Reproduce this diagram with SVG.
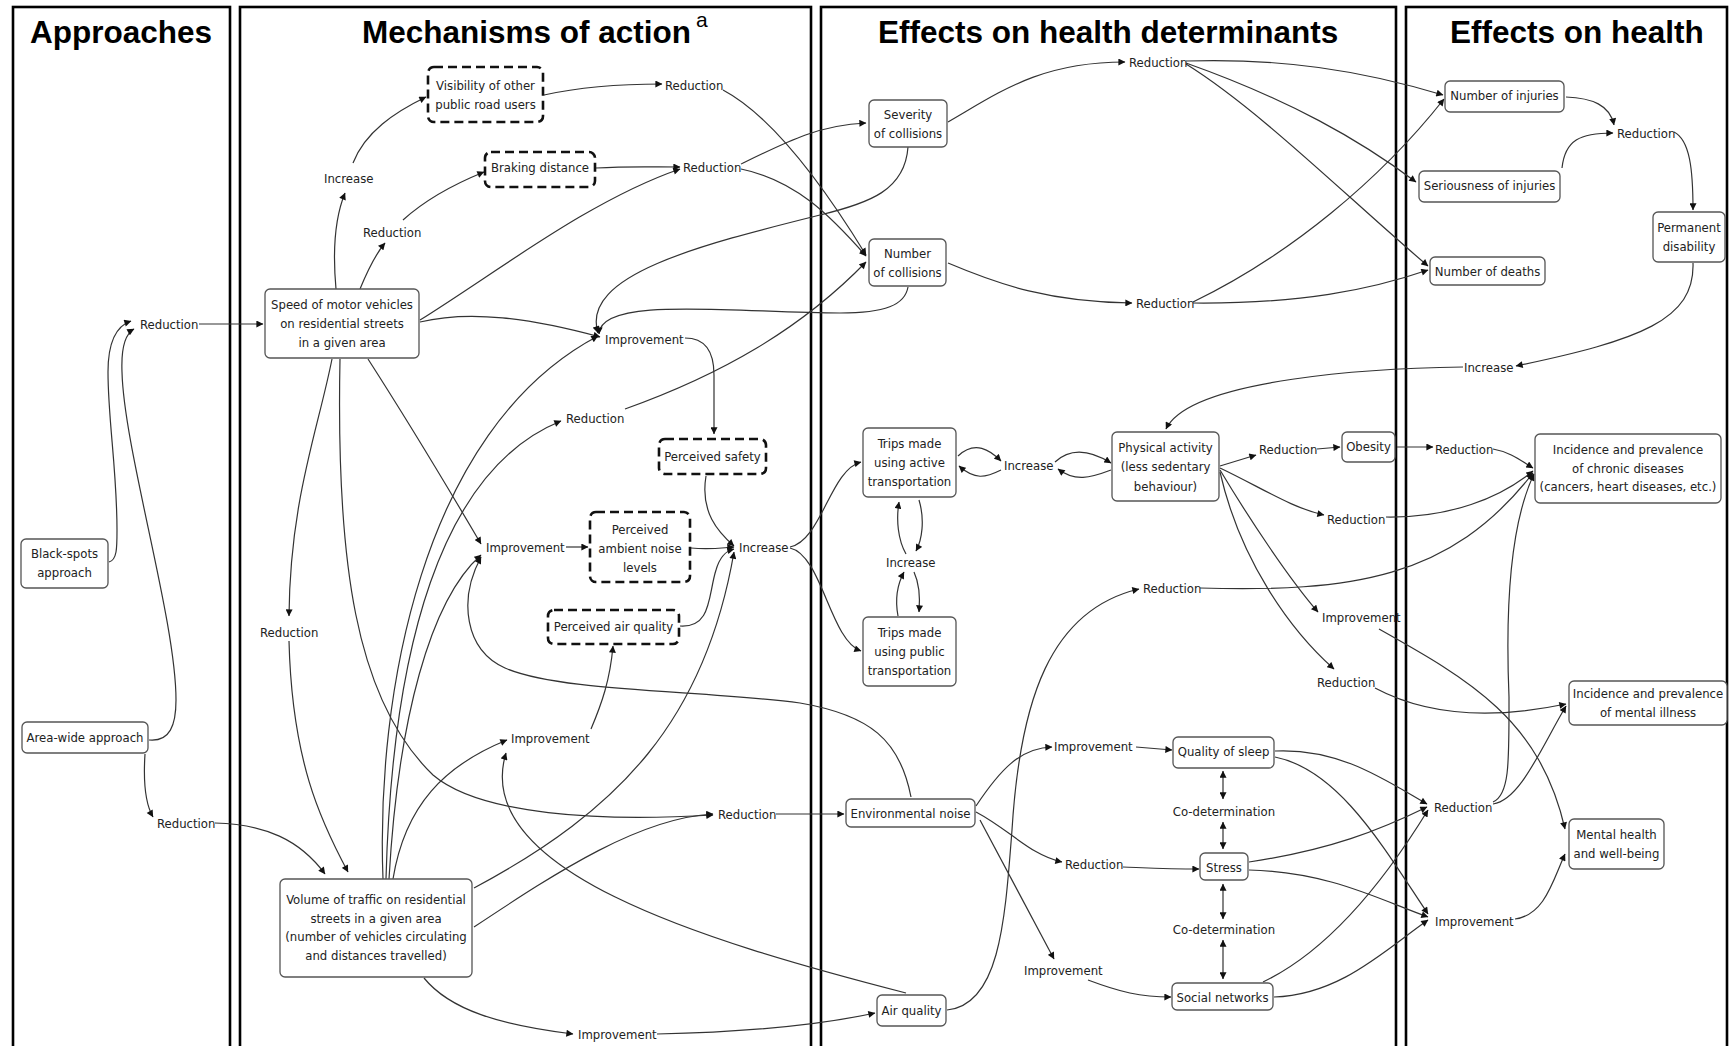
<svg xmlns="http://www.w3.org/2000/svg" width="1730" height="1046" viewBox="0 0 1730 1046">
<defs>
<style>
.frame{fill:none;stroke:#000;stroke-width:2.6}
.title{font-family:"Liberation Sans",Arial,sans-serif;font-weight:bold;font-size:31.5px;fill:#000}
.sup{font-family:"Liberation Sans",Arial,sans-serif;font-size:21px;fill:#000}
.box{fill:#fff;stroke:#555;stroke-width:1.3}
.dbox{fill:#fff;stroke:#111;stroke-width:2.6;stroke-dasharray:9 5}
.t{font-family:"DejaVu Sans Condensed","DejaVu Sans",sans-serif;font-stretch:condensed;font-size:13px;fill:#222}
.c{text-anchor:middle}
.e{fill:none;stroke:#333;stroke-width:1.2;marker-end:url(#ah)}
.d{fill:none;stroke:#333;stroke-width:1.2;marker-start:url(#ah);marker-end:url(#ah)}
</style>
<marker id="ah" viewBox="0 0 10 10" refX="9.5" refY="5" markerWidth="8" markerHeight="7" markerUnits="userSpaceOnUse" orient="auto-start-reverse">
<path d="M0,0 L10,5 L0,10 z" fill="#111"/>
</marker>
</defs>
<rect width="1730" height="1046" fill="#fff"/>
<g id="frames">
<rect class="frame" x="13" y="7" width="217" height="1060"/>
<rect class="frame" x="240" y="7" width="571" height="1060"/>
<rect class="frame" x="821" y="7" width="575" height="1060"/>
<rect class="frame" x="1406" y="7" width="321" height="1060"/>
</g>
<g id="titles">
<text class="title" x="30" y="43">Approaches</text>
<text class="title" x="362" y="43">Mechanisms of action</text>
<text class="sup" x="696" y="27">a</text>
<text class="title" x="878" y="43">Effects on health determinants</text>
<text class="title" x="1450" y="43">Effects on health</text>
</g>
<g id="connectors">
<path class="e" d="M 109 562 C 117 560, 117 548, 117 530 C 117 470, 108 420, 108 372 C 108 342, 116 326, 131 321"/>
<path class="e" d="M 149 740 C 170 742, 176 725, 176 700 C 176 620, 124 450, 122 372 C 121 347, 125 334, 134 329"/>
<path class="e" d="M 199 324 L 263 324"/>
<path class="e" d="M 145 754 C 143 785, 146 805, 153 817"/>
<path class="e" d="M 215 823 C 265 824, 300 840, 325 874"/>
<path class="e" d="M 336 289 C 332 245, 336 215, 345 193"/>
<path class="e" d="M 353 163 C 365 132, 395 112, 426 97"/>
<path class="e" d="M 360 289 C 367 272, 374 256, 385 243"/>
<path class="e" d="M 403 220 C 425 200, 452 185, 484 172"/>
<path class="e" d="M 544 95 C 580 87, 625 84, 662 84"/>
<path class="e" d="M 596 168 C 630 166, 650 167, 680 167"/>
<path class="e" d="M 420 320 C 500 270, 590 200, 680 169"/>
<path class="e" d="M 420 322 C 470 310, 530 318, 600 337"/>
<path class="e" d="M 723 90 C 770 115, 820 180, 866 255"/>
<path class="e" d="M 741 164 C 790 140, 820 125, 866 123"/>
<path class="e" d="M 741 169 C 795 180, 830 215, 866 256"/>
<path class="e" d="M 908 147 C 905 190, 870 203, 820 215 C 700 245, 580 275, 598 333"/>
<path class="e" d="M 908 287 C 905 305, 885 313, 840 313 C 740 313, 600 295, 599 334"/>
<path class="e" d="M 685 338 C 705 338, 714 352, 714 375 L 714 434"/>
<path class="e" d="M 625 409 C 720 375, 800 330, 866 262"/>
<path class="e" d="M 368 359 Q 420 440, 481 544"/>
<path class="e" d="M 566 547 L 588 547"/>
<path class="e" d="M 706 476 C 700 512, 718 532, 734 546"/>
<path class="e" d="M 691 548 C 710 550, 720 548, 734 547"/>
<path class="e" d="M 680 626 C 712 628, 708 595, 716 570 C 720 556, 726 551, 734 549"/>
<path class="e" d="M 474 888 C 620 810, 705 720, 734 552"/>
<path class="e" d="M 591 729 C 602 703, 610 680, 613 646"/>
<path class="e" d="M 393 879 C 405 805, 445 765, 507 740"/>
<path class="e" d="M 906 993 C 700 940, 470 870, 506 753"/>
<path class="e" d="M 332 359 C 318 430, 290 500, 289 616"/>
<path class="e" d="M 289 641 C 292 760, 320 820, 348 872"/>
<path class="e" d="M 340 359 C 336 560, 355 700, 433 775 C 480 815, 600 822, 713 815"/>
<path class="e" d="M 474 927 C 560 870, 640 818, 713 814"/>
<path class="e" d="M 776 814 L 844 814"/>
<path class="e" d="M 424 978 C 450 1010, 500 1025, 573 1034"/>
<path class="e" d="M 657 1034 C 750 1032, 820 1025, 875 1013"/>
<path class="e" d="M 911 797 C 900 740, 870 715, 800 703 C 700 690, 560 692, 505 668 C 465 650, 458 600, 481 557"/>
<path class="e" d="M 383 879 C 376 700, 420 430, 598 336"/>
<path class="e" d="M 386 879 C 392 650, 440 470, 561 421"/>
<path class="e" d="M 389 879 C 398 720, 430 600, 481 555"/>
<path class="e" d="M 948 122 C 1000 92, 1040 62, 1125 62"/>
<path class="e" d="M 948 263 C 1000 285, 1050 302, 1132 303"/>
<path class="e" d="M 1186 61 C 1280 58, 1360 70, 1443 95"/>
<path class="e" d="M 1186 63 C 1290 100, 1360 140, 1416 182"/>
<path class="e" d="M 1186 64 C 1260 110, 1350 200, 1428 266"/>
<path class="e" d="M 1193 302 C 1290 255, 1380 180, 1444 99"/>
<path class="e" d="M 1193 303 C 1300 304, 1370 290, 1428 270"/>
<path class="e" d="M 790 547 C 822 540, 830 470, 861 462"/>
<path class="e" d="M 790 548 C 822 555, 830 640, 861 651"/>
<path class="e" d="M 958 456 C 975 440, 990 450, 1001 461"/>
<path class="e" d="M 1001 470 C 985 478, 975 480, 959 466"/>
<path class="e" d="M 1055 462 C 1070 448, 1090 450, 1111 463"/>
<path class="e" d="M 1111 470 C 1090 478, 1075 482, 1058 469"/>
<path class="e" d="M 919 500 C 925 520, 922 540, 916 551"/>
<path class="e" d="M 906 554 C 898 540, 896 520, 899 502"/>
<path class="e" d="M 898 616 C 895 600, 897 585, 904 572"/>
<path class="e" d="M 914 572 C 920 585, 920 600, 919 612"/>
<path class="e" d="M 1463 367 C 1380 368, 1190 378, 1166 429"/>
<path class="e" d="M 1220 466 L 1256 455"/>
<path class="e" d="M 1317 449 L 1340 447"/>
<path class="e" d="M 1397 447 L 1433 447"/>
<path class="e" d="M 1493 449 C 1510 452, 1520 460, 1533 468"/>
<path class="e" d="M 1220 468 C 1262 488, 1292 508, 1324 515"/>
<path class="e" d="M 1386 517 C 1450 518, 1500 498, 1533 471"/>
<path class="e" d="M 1220 470 C 1250 520, 1290 580, 1318 612"/>
<path class="e" d="M 1220 472 C 1240 560, 1290 630, 1334 669"/>
<path class="e" d="M 947 1010 C 1000 1005, 1005 920, 1012 830 C 1020 700, 1050 610, 1139 589"/>
<path class="e" d="M 1200 588 C 1350 592, 1450 580, 1533 473"/>
<path class="e" d="M 1379 629 C 1470 680, 1540 720, 1565 829"/>
<path class="e" d="M 1375 688 C 1420 712, 1480 722, 1566 704"/>
<path class="e" d="M 976 806 C 1000 770, 1020 748, 1052 747"/>
<path class="e" d="M 1136 747 L 1172 750"/>
<path class="e" d="M 976 812 C 1010 830, 1030 855, 1062 862"/>
<path class="e" d="M 1123 867 C 1150 868, 1170 869, 1199 869"/>
<path class="e" d="M 980 820 L 1054 959"/>
<path class="e" d="M 1088 980 C 1120 992, 1140 997, 1171 997"/>
<path class="d" d="M 1223 771 L 1223 799"/>
<path class="d" d="M 1223 822 L 1223 849"/>
<path class="d" d="M 1223 884 L 1223 919"/>
<path class="d" d="M 1223 940 L 1223 979"/>
<path class="e" d="M 1275 751 C 1340 748, 1385 780, 1427 804"/>
<path class="e" d="M 1275 757 C 1340 770, 1385 850, 1428 914"/>
<path class="e" d="M 1249 862 C 1330 850, 1380 830, 1427 807"/>
<path class="e" d="M 1249 870 C 1330 872, 1380 900, 1428 917"/>
<path class="e" d="M 1263 982 C 1330 950, 1385 880, 1428 810"/>
<path class="e" d="M 1274 997 C 1340 995, 1385 950, 1428 920"/>
<path class="e" d="M 1493 804 C 1520 800, 1540 750, 1566 706"/>
<path class="e" d="M 1493 802 C 1510 795, 1509 760, 1509 697 C 1505 600, 1512 520, 1534 474"/>
<path class="e" d="M 1515 919 C 1545 915, 1553 880, 1565 854"/>
<path class="e" d="M 1566 97 C 1592 98, 1610 105, 1614 125"/>
<path class="e" d="M 1562 168 C 1565 140, 1580 133, 1613 133"/>
<path class="e" d="M 1674 132 C 1690 140, 1693 170, 1693 210"/>
<path class="e" d="M 1693 263 C 1695 320, 1640 340, 1516 366"/>
</g>
<g id="n-blackspots"><rect class="box" x="21" y="539" width="87" height="49" rx="5"/><text class="t c" x="64.5" y="557.5">Black-spots</text><text class="t c" x="64.5" y="576.5">approach</text></g>
<g id="n-areawide"><rect class="box" x="22" y="722" width="126" height="31" rx="5"/><text class="t c" x="85" y="741.5">Area-wide approach</text></g>
<g id="n-a1"><text class="t" x="140" y="328.5">Reduction</text></g>
<g id="n-a2"><text class="t" x="157" y="827.5">Reduction</text></g>
<g id="n-speed"><rect class="box" x="265" y="289" width="154" height="69" rx="5"/><text class="t c" x="342" y="308.5">Speed of motor vehicles</text><text class="t c" x="342" y="327.5">on residential streets</text><text class="t c" x="342" y="346.5">in a given area</text></g>
<g id="n-visibility"><rect class="dbox" x="428" y="67" width="115" height="55" rx="6"/><text class="t c" x="485.5" y="89.5">Visibility of other</text><text class="t c" x="485.5" y="108.5">public road users</text></g>
<g id="n-braking"><rect class="dbox" x="485" y="152" width="110" height="35" rx="6"/><text class="t c" x="540" y="171.5">Braking distance</text></g>
<g id="n-psafety"><rect class="dbox" x="659" y="439" width="107" height="35" rx="6"/><text class="t c" x="712.5" y="460.5">Perceived safety</text></g>
<g id="n-pnoise"><rect class="dbox" x="590" y="512" width="100" height="70" rx="6"/><text class="t c" x="640" y="533.5">Perceived</text><text class="t c" x="640" y="552.5">ambient noise</text><text class="t c" x="640" y="571.5">levels</text></g>
<g id="n-pair"><rect class="dbox" x="548" y="610" width="131" height="34" rx="6"/><text class="t c" x="613.5" y="630.5">Perceived air quality</text></g>
<g id="n-volume"><rect class="box" x="280" y="879" width="192" height="98" rx="5"/><text class="t c" x="376" y="903.5">Volume of traffic on residential</text><text class="t c" x="376" y="922.5">streets in a given area</text><text class="t c" x="376" y="941">(number of vehicles circulating</text><text class="t c" x="376" y="960">and distances travelled)</text></g>
<g id="n-m1"><text class="t" x="324" y="182.5">Increase</text></g>
<g id="n-m2"><text class="t" x="363" y="236.5">Reduction</text></g>
<g id="n-m3"><text class="t" x="665" y="89.5">Reduction</text></g>
<g id="n-m4"><text class="t" x="683" y="171.5">Reduction</text></g>
<g id="n-m5"><text class="t" x="605" y="343.5">Improvement</text></g>
<g id="n-m6"><text class="t" x="566" y="422.5">Reduction</text></g>
<g id="n-m7"><text class="t" x="486" y="551.5">Improvement</text></g>
<g id="n-m8"><text class="t" x="739" y="551.5">Increase</text></g>
<g id="n-m9"><text class="t" x="511" y="742.5">Improvement</text></g>
<g id="n-m10"><text class="t" x="260" y="636.5">Reduction</text></g>
<g id="n-m11"><text class="t" x="718" y="818.5">Reduction</text></g>
<g id="n-m12"><text class="t" x="578" y="1038.5">Improvement</text></g>
<g id="n-severity"><rect class="box" x="869" y="100" width="78" height="47" rx="5"/><text class="t c" x="908" y="118.5">Severity</text><text class="t c" x="908" y="137.5">of collisions</text></g>
<g id="n-numcoll"><rect class="box" x="869" y="239" width="77" height="47" rx="5"/><text class="t c" x="907.5" y="257.5">Number</text><text class="t c" x="907.5" y="276.5">of collisions</text></g>
<g id="n-tripsactive"><rect class="box" x="863" y="428" width="93" height="69" rx="5"/><text class="t c" x="909.5" y="447.5">Trips made</text><text class="t c" x="909.5" y="466.5">using active</text><text class="t c" x="909.5" y="485.5">transportation</text></g>
<g id="n-tripspublic"><rect class="box" x="863" y="617" width="93" height="69" rx="5"/><text class="t c" x="909.5" y="636.5">Trips made</text><text class="t c" x="909.5" y="655.5">using public</text><text class="t c" x="909.5" y="674.5">transportation</text></g>
<g id="n-pa"><rect class="box" x="1112" y="432" width="107" height="69" rx="5"/><text class="t c" x="1165.5" y="451.5">Physical activity</text><text class="t c" x="1165.5" y="471">(less sedentary</text><text class="t c" x="1165.5" y="490.5">behaviour)</text></g>
<g id="n-obesity"><rect class="box" x="1342" y="432" width="53" height="30" rx="5"/><text class="t c" x="1368.5" y="450.5">Obesity</text></g>
<g id="n-envnoise"><rect class="box" x="846" y="799" width="129" height="28" rx="5"/><text class="t c" x="910.5" y="818">Environmental noise</text></g>
<g id="n-airquality"><rect class="box" x="877" y="995" width="69" height="31" rx="5"/><text class="t c" x="911.5" y="1014.5">Air quality</text></g>
<g id="n-sleep"><rect class="box" x="1173" y="737" width="101" height="31" rx="5"/><text class="t c" x="1223.5" y="756">Quality of sleep</text></g>
<g id="n-stress"><rect class="box" x="1200" y="853" width="48" height="27" rx="5"/><text class="t c" x="1224" y="871.5">Stress</text></g>
<g id="n-social"><rect class="box" x="1172" y="983" width="101" height="27" rx="5"/><text class="t c" x="1222.5" y="1001.5">Social networks</text></g>
<g id="n-d1"><text class="t" x="1129" y="66.5">Reduction</text></g>
<g id="n-d2"><text class="t" x="1136" y="307.5">Reduction</text></g>
<g id="n-d3"><text class="t" x="1004" y="469.5">Increase</text></g>
<g id="n-d4"><text class="t" x="886" y="566.5">Increase</text></g>
<g id="n-d5"><text class="t" x="1259" y="453.5">Reduction</text></g>
<g id="n-d6"><text class="t" x="1327" y="523.5">Reduction</text></g>
<g id="n-d7"><text class="t" x="1322" y="621.5">Improvement</text></g>
<g id="n-d8"><text class="t" x="1317" y="686.5">Reduction</text></g>
<g id="n-d9"><text class="t" x="1143" y="592.5">Reduction</text></g>
<g id="n-d10"><text class="t" x="1054" y="750.5">Improvement</text></g>
<g id="n-d11"><text class="t" x="1065" y="868.5">Reduction</text></g>
<g id="n-d12"><text class="t" x="1024" y="974.5">Improvement</text></g>
<g id="n-codet1"><text class="t c" x="1224" y="815.5">Co-determination</text></g>
<g id="n-codet2"><text class="t c" x="1224" y="933.5">Co-determination</text></g>
<g id="n-injuries"><rect class="box" x="1445" y="81" width="119" height="31" rx="5"/><text class="t c" x="1504.5" y="100">Number of injuries</text></g>
<g id="n-seriousness"><rect class="box" x="1419" y="171" width="141" height="31" rx="5"/><text class="t c" x="1489.5" y="190">Seriousness of injuries</text></g>
<g id="n-deaths"><rect class="box" x="1430" y="257" width="115" height="28" rx="5"/><text class="t c" x="1487.5" y="276">Number of deaths</text></g>
<g id="n-permanent"><rect class="box" x="1653" y="212" width="72" height="50" rx="5"/><text class="t c" x="1689" y="231.5">Permanent</text><text class="t c" x="1689" y="250.5">disability</text></g>
<g id="n-chronic"><rect class="box" x="1535" y="434" width="186" height="69" rx="5"/><text class="t c" x="1628" y="453.5">Incidence and prevalence</text><text class="t c" x="1628" y="472.5">of chronic diseases</text><text class="t c" x="1628" y="491">(cancers, heart diseases, etc.)</text></g>
<g id="n-mentalillness"><rect class="box" x="1569" y="681" width="158" height="44" rx="5"/><text class="t c" x="1648" y="698">Incidence and prevalence</text><text class="t c" x="1648" y="717">of mental illness</text></g>
<g id="n-mentalhealth"><rect class="box" x="1569" y="819" width="95" height="50" rx="5"/><text class="t c" x="1616.5" y="838.5">Mental health</text><text class="t c" x="1616.5" y="857.5">and well-being</text></g>
<g id="n-h1"><text class="t" x="1435" y="453.5">Reduction</text></g>
<g id="n-h2"><text class="t" x="1434" y="811.5">Reduction</text></g>
<g id="n-h3"><text class="t" x="1435" y="925.5">Improvement</text></g>
<g id="n-h4"><text class="t" x="1617" y="137.5">Reduction</text></g>
<g id="n-h5"><text class="t" x="1464" y="371.5">Increase</text></g>
</svg>
